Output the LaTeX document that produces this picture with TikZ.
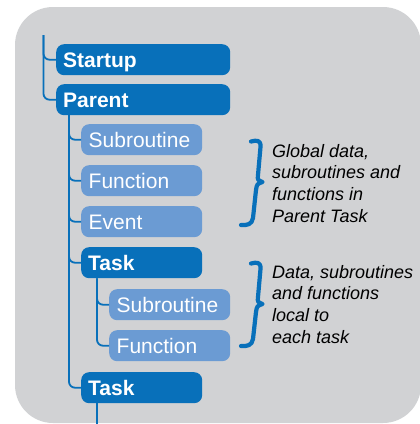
\documentclass[tikz,border=0pt]{standalone}
\usepackage{fontspec}
\setmainfont{Liberation Sans}
\definecolor{bgray}{HTML}{D1D2D4}
\definecolor{dblue}{HTML}{0870BA}
\definecolor{lblue}{HTML}{6B9BD3}
\tikzset{
  box/.style={rounded corners=8pt, minimum height=31pt, inner xsep=7pt, inner ysep=0pt,
    text height=15pt, text depth=0pt, align=left, text=white, anchor=north west,
    font=\fontsize{21}{21}\selectfont},
  bigbox/.style={box, fill=dblue, text width=160pt, font=\fontsize{21}{21}\selectfont\bfseries},
  midbox/.style={box, fill=dblue, text width=107pt, font=\fontsize{21}{21}\selectfont\bfseries},
  subbox/.style={box, fill=lblue, text width=106pt, inner xsep=7.5pt},
  conn/.style={draw=dblue, line width=1.8pt, rounded corners=6pt},
  brace/.style={draw=dblue, line width=4.2pt, line cap=round, line join=round},
  note/.style={anchor=north west, inner sep=0pt, align=left,
    font=\fontsize{18}{21.7}\selectfont\itshape}
}
\begin{document}
\begin{tikzpicture}[x=1pt,y=-1pt]
\useasboundingbox (0,0) rectangle (420,424);
\begin{scope}
\clip (0,0) rectangle (420,424);
\fill[bgray, rounded corners=38pt] (15,7) rectangle (421,423);
\end{scope}

% boxes
\node[bigbox] (startup) at (56,44) {Startup};
\node[bigbox] (parent) at (56,84) {Parent};
\node[subbox] (sub1) at (81,124) {Subroutine};
\node[subbox] (fun1) at (81,165) {Function};
\node[subbox] (event) at (81,206) {Event};
\node[midbox] (task1) at (81,247) {Task};
\node[subbox] (sub2) at (109,289) {Subroutine};
\node[subbox] (fun2) at (109,330) {Function};
\node[midbox] (task2) at (81,372) {Task};

% connectors
\coordinate (root) at (43.5,35);
\draw[conn] (root) |- (startup.west);
\draw[conn] (root) |- (parent.west);
\coordinate (p2) at ([xshift=13pt]parent.south west);
\draw[conn] (p2) |- (sub1.west);
\draw[conn] (p2) |- (fun1.west);
\draw[conn] (p2) |- (event.west);
\draw[conn] (p2) |- (task1.west);
\draw[conn] (p2) |- (task2.west);
\coordinate (t3) at ([xshift=16pt]task1.south west);
\draw[conn] (t3) |- (sub2.west);
\draw[conn] (t3) |- (fun2.west);
\coordinate (t4) at ([xshift=16pt]task2.south west);
\coordinate (tail) at (t4 |- 0,426);
\draw[conn] (t4) -- (tail);

% braces
\draw[brace] (251,141.5) .. controls (257,140) and (261,140) .. (260.5,147)
  -- (258,175) .. controls (257.5,180) .. (262.5,182)
  .. controls (257,184) .. (256,190) -- (253,218)
  .. controls (252,224.5) and (247,225.5) .. (241,225);
\draw[brace] (251,263.5) .. controls (257,262) and (261,262) .. (260.5,269)
  -- (258,297) .. controls (257.5,302) .. (262.5,304)
  .. controls (257,306) .. (256,312) -- (253,339)
  .. controls (252,345.5) and (247,346.5) .. (241,346);

% notes
\node[note] (note1) at (272,144) {Global data,\\subroutines and\\functions in\\Parent Task};
\node[note] (note2) at (272,265) {Data, subroutines\\and functions\\local to\\each task};
\end{tikzpicture}
\end{document}
